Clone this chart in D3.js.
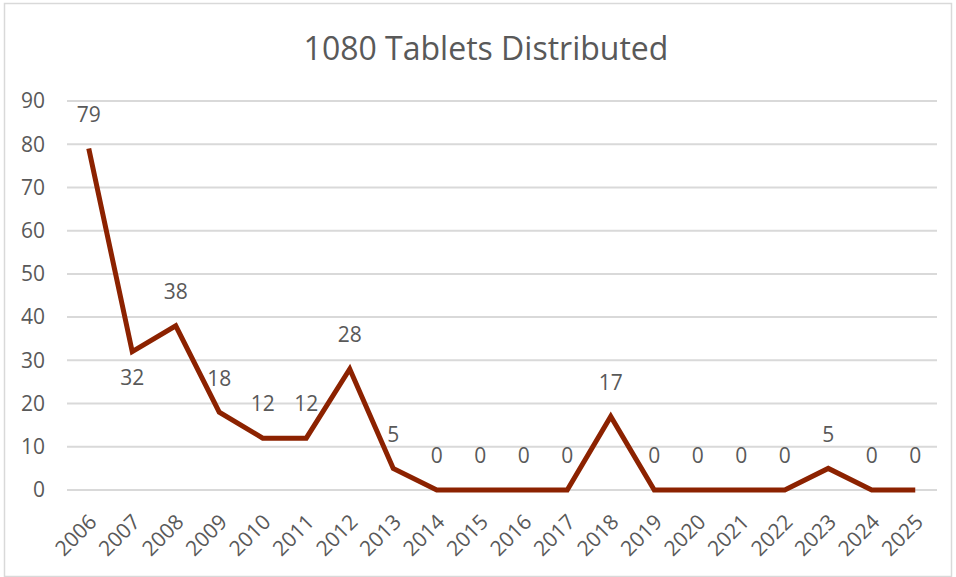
<!DOCTYPE html>
<html>
<head>
<meta charset="utf-8">
<script src="https://cdn.jsdelivr.net/npm/d3@7"></script>
<style>
  body { margin: 0; background: #fff; }
  text { font-family: "Open Sans", "Noto Sans", sans-serif; fill: #595959; }
</style>
</head>
<body>
<section></section>
<script>
// chart data
var years = ["2006","2007","2008","2009","2010","2011","2012","2013","2014","2015",
             "2016","2017","2018","2019","2020","2021","2022","2023","2024","2025"];
var tablets = [79, 32, 38, 18, 12, 12, 28, 5, 0, 0, 0, 0, 17, 0, 0, 0, 0, 5, 0, 0];
var yTicks = [0, 10, 20, 30, 40, 50, 60, 70, 80, 90];

var W = 956, H = 577;
var margin = {top: 101, right: 19, bottom: 87, left: 67},
  width = W - margin.left - margin.right,
  height = H - margin.top - margin.bottom;

var svg = d3.select("section").append("svg")
    .attr("width", W)
    .attr("height", H),
  g = svg.append("g")
    .attr("transform", "translate(" + margin.left + "," + margin.top + ")");

// outer frame
svg.append("rect")
  .attr("x", 4.5).attr("y", 3.5)
  .attr("width", W - 9).attr("height", H - 4)
  .attr("fill", "none")
  .attr("stroke", "#d9d9d9")
  .attr("stroke-width", 1.5);

// title
svg.append("text")
  .attr("x", 486).attr("y", 60)
  .attr("text-anchor", "middle")
  .style("font-size", "32px")
  .text("1080 Tablets Distributed");

var x = d3.scaleBand().domain(years).range([0, width]);
var y = d3.scaleLinear().domain([0, 90]).range([height, 0]);

// gridlines
g.selectAll(".grid")
  .data(yTicks)
  .enter().append("line")
  .attr("x1", 0).attr("x2", width)
  .attr("y1", function(d) { return y(d); })
  .attr("y2", function(d) { return y(d); })
  .attr("stroke", "#d9d9d9")
  .attr("stroke-width", 2);

// y labels
g.selectAll(".ylab")
  .data(yTicks)
  .enter().append("text")
  .attr("x", -22)
  .attr("y", function(d) { return y(d); })
  .attr("dy", "0.35em")
  .attr("text-anchor", "end")
  .style("font-size", "21px")
  .text(function(d) { return d; });

// x labels
g.selectAll(".xlab")
  .data(years)
  .enter().append("text")
  .attr("text-anchor", "end")
  .style("font-size", "21px")
  .attr("transform", function(d) {
    return "translate(" + (x(d) + x.bandwidth() / 2 + 4) + "," + (height + 28) + ") rotate(-45)";
  })
  .attr("dy", "0.35em")
  .text(function(d) { return d; });

// line
var pts = years.map(function(d, i) { return {year: d, v: tablets[i]}; });
var line = d3.line()
  .x(function(d) { return x(d.year) + x.bandwidth() / 2; })
  .y(function(d) { return y(d.v); });

g.append("path")
  .datum(pts)
  .attr("d", line)
  .attr("fill", "none")
  .attr("stroke", "#8c2200")
  .attr("stroke-width", 5)
  .attr("stroke-linejoin", "miter");

// data labels
g.selectAll(".dlab")
  .data(pts)
  .enter().append("text")
  .attr("text-anchor", "middle")
  .style("font-size", "21px")
  .attr("x", function(d) { return x(d.year) + x.bandwidth() / 2; })
  .attr("y", function(d, i) { return y(d.v) + (i === 1 ? 26 : -34); })
  .attr("dy", "0.35em")
  .text(function(d) { return d.v; });
</script>
</body>
</html>
